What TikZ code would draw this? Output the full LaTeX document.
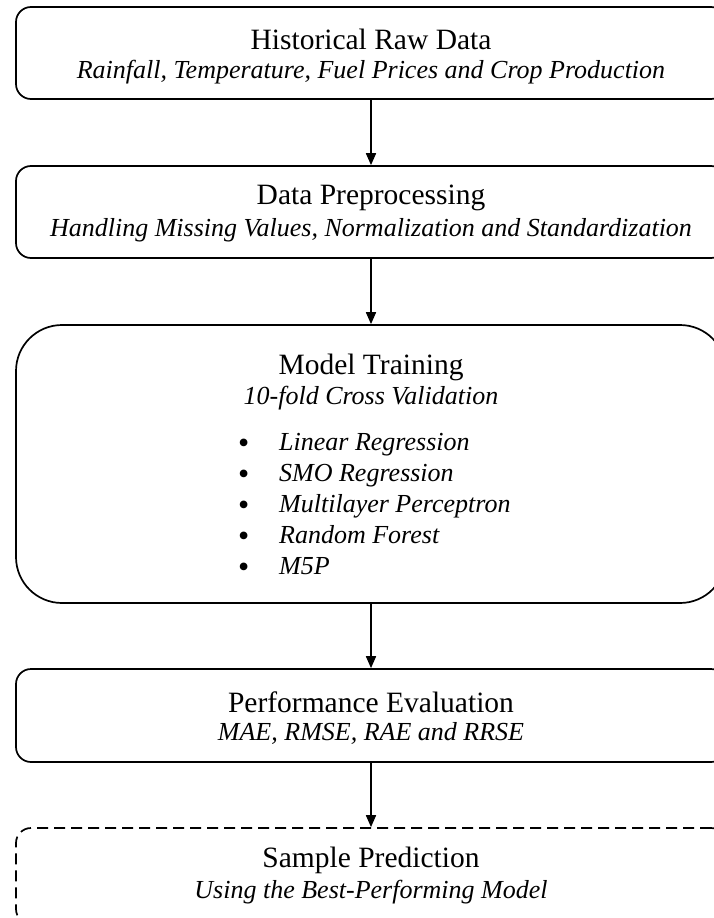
\documentclass[tikz,border=0pt]{standalone}
\usepackage{fontspec}
\setmainfont{Liberation Serif}
\usetikzlibrary{arrows.meta}
\newcommand{\bigbul}{\makebox[41pt][l]{\raisebox{-3.5pt}{\fontsize{32}{32}\selectfont\upshape\textbullet}}}
\begin{document}
\begin{tikzpicture}[x=1pt,y=1pt,
  box/.style={draw, line width=1.7pt, rounded corners=15pt, minimum width=710pt, inner sep=0pt},
  ttl/.style={font=\fontsize{29.5}{31}\selectfont, inner sep=0pt},
  sub/.style={font=\fontsize{26}{28}\selectfont\itshape, inner sep=0pt},
  itm/.style={font=\fontsize{26}{31}\selectfont\itshape, inner sep=0pt, anchor=base west},
  flow/.style={line width=1.7pt, -{Triangle[length=12pt,width=10pt]}}]
\useasboundingbox (0,0) rectangle (714,-918);
\clip (0,0) rectangle (714,-918);
% boxes
\node[box, minimum height=92pt] (b1) at (371,-53) {};
\node[box, minimum height=92pt] (b2) at (371,-212) {};
\node[box, minimum height=278pt, rounded corners=46pt] (b3) at (371,-464) {};
\node[box, minimum height=93pt] (b4) at (371,-715.5) {};
\node[box, minimum height=96pt, dash pattern=on 11pt off 6pt] (b5) at (371,-876) {};
% texts
\node[ttl] (t1) at (371,-39) {Historical Raw Data};
\node[sub] (s1) at (371,-72) {Rainfall, Temperature, Fuel Prices and Crop Production};
\node[ttl] (t2) at (371,-198) {Data Preprocessing};
\node[sub] (s2) at (371,-230) {Handling Missing Values, Normalization and Standardization};
\node[ttl] (t3) at (371,-367) {Model Training};
\node[sub] (s3) at (371,-398) {10-fold Cross Validation};
\node[itm] (lst) at (238,-450) {\begin{tabular}[t]{@{}l@{}}
\bigbul Linear Regression\\
\bigbul SMO Regression\\
\bigbul Multilayer Perceptron\\
\bigbul Random Forest\\
\bigbul M5P
\end{tabular}};
\node[ttl] (t4) at (371,-702) {Performance Evaluation};
\node[sub] (s4) at (371,-733) {MAE, RMSE, RAE and RRSE};
\node[ttl] (t5) at (371,-860) {Sample Prediction};
\node[sub] (s5) at (371,-892) {Using the Best-Performing Model};
% arrows
\draw[flow] (b1.south) -- (b2.north);
\draw[flow] (b2.south) -- (b3.north);
\draw[flow] (b3.south) -- (b4.north);
\draw[flow] (b4.south) -- (b5.north);
\end{tikzpicture}
\end{document}
